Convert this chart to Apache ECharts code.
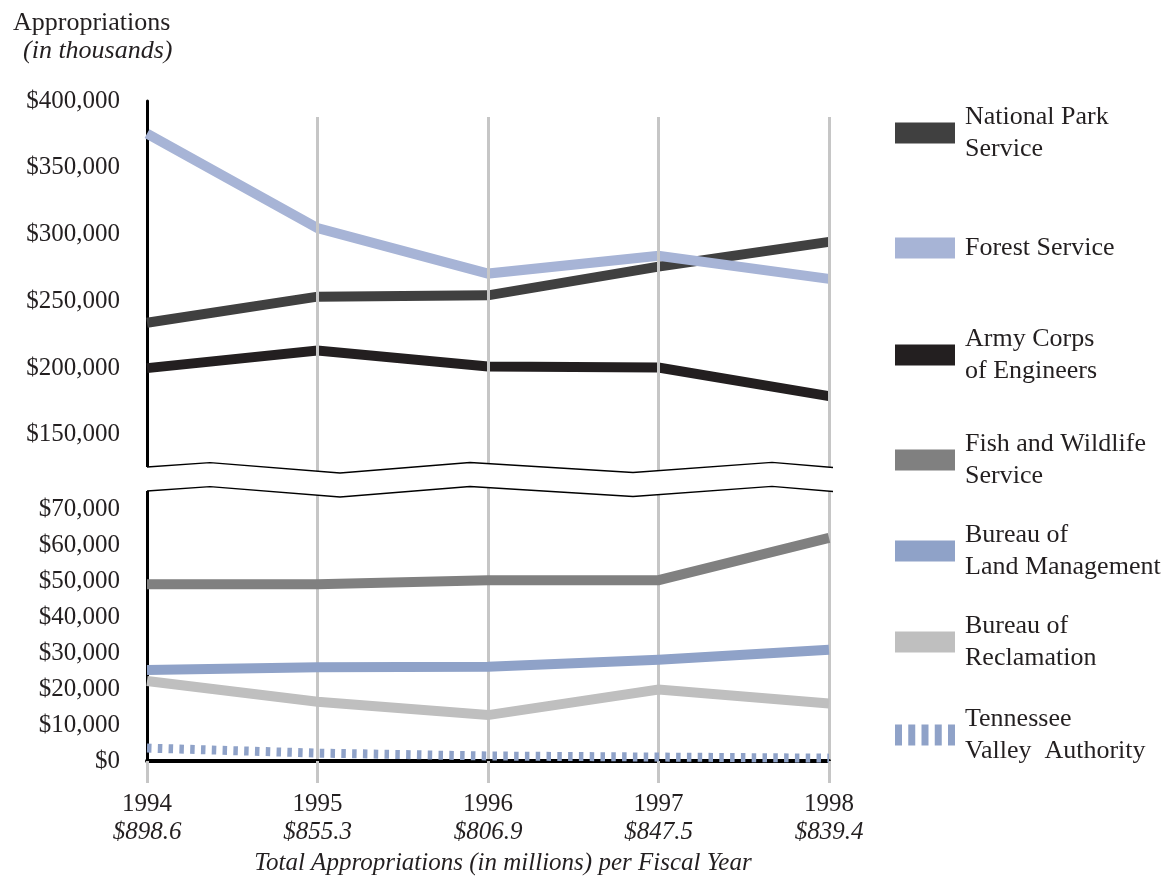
<!DOCTYPE html>
<html>
<head>
<meta charset="utf-8">
<title>Appropriations</title>
<script src="https://cdn.jsdelivr.net/npm/echarts@6/dist/echarts.min.js"></script>
<style>
  html, body { margin: 0; padding: 0; background: #fff; }
  #chart { width: 1174px; height: 880px; }
</style>
</head>
<body>
<div id="chart"></div>
<script>
// fiscal years and total appropriations (in millions)
var years = ['1994', '1995', '1996', '1997', '1998'];
var totals = ['$898.6', '$855.3', '$806.9', '$847.5', '$839.4'];

// appropriations in thousands
var nationalPark = [234000, 253500, 254500, 276000, 294500];
var forestService = [375500, 304800, 270800, 284200, 266800];
var armyCorps = [200000, 213200, 201300, 200400, 179000];
var fishWildlife = [49300, 49300, 50400, 50400, 62200];
var landMgmt = [25400, 26100, 26300, 28200, 31000];
var reclamation = [22300, 16500, 12800, 19900, 16000];
var tennessee = [3600, 2200, 1400, 1100, 800];

var names = ['National Park Service', 'Forest Service', 'Army Corps of Engineers',
  'Fish and Wildlife Service', 'Bureau of Land Management', 'Bureau of Reclamation',
  'Tennessee Valley Authority'];
var legendLabels = ['National Park\nService', 'Forest Service', 'Army Corps\nof Engineers',
  'Fish and Wildlife\nService', 'Bureau of\nLand Management', 'Bureau of\nReclamation',
  'Tennessee\nValley  Authority'];

var font = 'Liberation Serif';
var ink = '#231f20';
var gridGrey = '#c6c6c6';

var myChart = echarts.init(document.getElementById('chart'));

function money(v) {
  return '$' + v.toLocaleString('en-US');
}

// legend items: one legend each, spacing is uneven in the original
var legendTops = [101, 232, 323, 428, 519, 610, 703];
var legends = [];
for (var i = 0; i < names.length; i++) {
  var item = { name: names[i] };
  if (i === 6) {
    item.icon = 'path://M0,0h7v21h-7z M13.25,0h7v21h-7z M26.5,0h7v21h-7z M39.75,0h7v21h-7z M53,0h7v21h-7z';
  } else {
    item.icon = 'rect';
  }
  legends.push({
    data: [item],
    left: 895,
    top: legendTops[i],
    padding: 0,
    itemWidth: 60,
    itemHeight: 21,
    selectedMode: false,
    itemStyle: { borderWidth: 0 },
    formatter: (function (k) { return function () { return legendLabels[k]; }; })(i),
    textStyle: { fontFamily: font, fontSize: 26, color: ink, lineHeight: 32, padding: [0, 0, 0, 5] }
  });
}

// zig-zag axis break between the two panels
var breakTop = [[147, 467], [210, 462.7], [340, 473], [470, 462.5], [633, 472.5], [772, 462.3], [833, 467.5]];
var breakBottom = breakTop.map(function (p) { return [p[0], p[1] + 24]; });
var bandPts = [[141, 467]].concat(breakTop, breakBottom.slice().reverse(), [[141, 491]]);

// vertical grey year lines in the upper panel start a little below the top
// (first year sits on the black axis, so skip it)
var upperGridLines = years.slice(1).map(function (y) {
  return [{ coord: [y, 388000] }, { coord: [y, 120000] }];
});

function lineSeries(name, data, color, axisIdx, dash, width) {
  return {
    name: name,
    type: 'line',
    xAxisIndex: axisIdx,
    yAxisIndex: axisIdx,
    data: data,
    color: color,
    showSymbol: false,
    symbol: 'none',
    silent: true,
    lineStyle: { width: width || 10, color: color, type: dash || 'solid', cap: 'butt', join: 'miter' },
    z: 3
  };
}

var option = {
  backgroundColor: '#fff',
  animation: false,
  title: [
    { text: 'Appropriations', left: 8, top: 5,
      textStyle: { fontFamily: font, fontSize: 26, fontWeight: 'normal', color: ink } },
    { text: '(in thousands)', left: 18, top: 33,
      textStyle: { fontFamily: font, fontSize: 26, fontWeight: 'normal', fontStyle: 'italic', color: ink } }
  ],
  legend: legends,
  grid: [
    { left: 147, right: 345, top: 101, height: 374 },
    { left: 147, right: 345, top: 474, height: 287 }
  ],
  xAxis: [
    {
      gridIndex: 0, type: 'category', data: years, boundaryGap: false,
      axisLine: { show: false }, axisTick: { show: false }, axisLabel: { show: false },
      splitLine: { show: false }
    },
    {
      gridIndex: 1, type: 'category', data: years, boundaryGap: false,
      axisLine: { show: true, lineStyle: { color: '#000', width: 4 } },
      axisTick: { show: true, length: 22, lineStyle: { color: gridGrey, width: 3 } },
      splitLine: { show: true, lineStyle: { color: gridGrey, width: 3 } },
      axisLabel: {
        margin: 29,
        formatter: function (v, idx) { return '{y|' + v + '}\n{m|' + totals[idx] + '}'; },
        rich: {
          y: { fontFamily: font, fontSize: 25, color: ink, lineHeight: 28 },
          m: { fontFamily: font, fontSize: 25, fontStyle: 'italic', color: ink, lineHeight: 28 }
        }
      }
    }
  ],
  yAxis: [
    {
      gridIndex: 0, type: 'value', min: 120000, max: 400000, interval: 10000,
      axisLine: { show: true, lineStyle: { color: '#000', width: 3 } },
      axisTick: { show: false }, splitLine: { show: false },
      axisLabel: {
        margin: 27, fontFamily: font, fontSize: 25, color: ink,
        formatter: function (v) { return (v % 50000 === 0 && v >= 150000) ? money(v) : ''; }
      }
    },
    {
      gridIndex: 1, type: 'value', min: 0, max: 80000, interval: 10000,
      axisLine: { show: true, lineStyle: { color: '#000', width: 3 } },
      axisTick: { show: false }, splitLine: { show: false },
      axisLabel: {
        margin: 27, fontFamily: font, fontSize: 25, color: ink,
        formatter: function (v) { return v <= 70000 ? money(v) : ''; }
      }
    }
  ],
  graphic: [
    { type: 'polygon', z: 100, shape: { points: bandPts }, style: { fill: '#fff' } },
    { type: 'polyline', z: 101, shape: { points: breakTop }, style: { stroke: '#000', lineWidth: 1.3, fill: null } },
    { type: 'polyline', z: 101, shape: { points: breakBottom }, style: { stroke: '#000', lineWidth: 1.3, fill: null } },
    { type: 'text', z: 101, x: 503, y: 863,
      style: { text: 'Total Appropriations (in millions) per Fiscal Year', fontFamily: font, fontSize: 25,
        fontStyle: 'italic', fill: ink, align: 'center', verticalAlign: 'middle' } }
  ],
  series: [
    {
      type: 'line', xAxisIndex: 0, yAxisIndex: 0, data: [], silent: true, z: 1,
      markLine: {
        silent: true, symbol: 'none', label: { show: false },
        lineStyle: { color: gridGrey, width: 3, type: 'solid' },
        data: upperGridLines
      }
    },
    lineSeries(names[0], nationalPark, '#404040', 0),
    lineSeries(names[1], forestService, '#a7b4d6', 0),
    lineSeries(names[2], armyCorps, '#231f20', 0),
    lineSeries(names[3], fishWildlife, '#808080', 1),
    lineSeries(names[4], landMgmt, '#8fa2c8', 1),
    lineSeries(names[5], reclamation, '#bfbfbf', 1),
    lineSeries(names[6], tennessee, '#8fa2c8', 1, [4.5, 6.3], 9)
  ]
};

myChart.setOption(option);
</script>
</body>
</html>
